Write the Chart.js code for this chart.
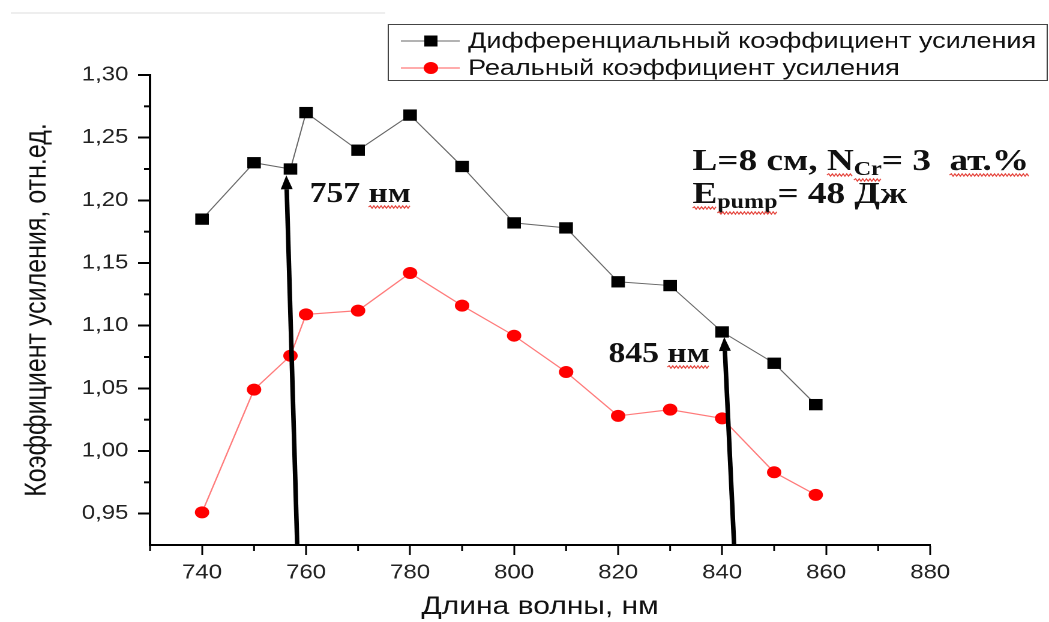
<!DOCTYPE html>
<html>
<head>
<meta charset="utf-8">
<title>Коэффициент усиления</title>
<script src="https://cdn.jsdelivr.net/npm/chart.js@4/dist/chart.umd.min.js"></script>
<style>
  html, body { margin: 0; padding: 0; background: #fff; }
</style>
</head>
<body>
<canvas id="gainChart" style="display:block;width:1049px;height:622px"></canvas>
<script>
// values
const wavelengths = [740, 750, 757, 760, 770, 780, 790, 800, 810, 820, 830, 840, 850, 858];
const diffGain = [1.185, 1.230, 1.225, 1.270, 1.240, 1.268, 1.227, 1.182, 1.178, 1.135, 1.132, 1.095, 1.070, 1.037];
const realGain = [0.951, 1.049, 1.076, 1.109, 1.112, 1.142, 1.116, 1.092, 1.063, 1.028, 1.033, 1.026, 0.983, 0.965];
const seriesLabels = ['Дифференциальный коэффициент усиления', 'Реальный коэффициент усиления'];

const xMajorTicks = [740, 760, 780, 800, 820, 840, 860, 880];
const xMinorTicks = [730, 750, 770, 790, 810, 830, 850, 870];
const yMajorTicks = [0.95, 1.00, 1.05, 1.10, 1.15, 1.20, 1.25, 1.30];
const yMinorTicks = [0.975, 1.025, 1.075, 1.125, 1.175, 1.225, 1.275];

// arrows: from the axis up to the marked point (data units)
const arrowFromX = [758.3, 842.3];
const arrowToX = [756.2, 840.4];
const arrowToY = [1.220, 1.091];

// the reference picture is stretched sideways, so draw narrower and let css widen it
const STRETCH = 1.2;
const W = Math.round(1049 / STRETCH);
const canvas = document.getElementById('gainChart');
canvas.width = W;
canvas.height = 622;

const SANS = '"Liberation Sans", Arial, sans-serif';
const SERIF = '"Liberation Serif", "Times New Roman", serif';

function squiggle(ctx, x0, x1, y) {
    ctx.save();
    ctx.strokeStyle = '#e5473f';
    ctx.lineWidth = 1;
    ctx.beginPath();
    let up = true;
    ctx.moveTo(x0, y);
    for (let x = x0 + 1.5; x <= x1; x += 1.5) {
        ctx.lineTo(x, up ? y - 1.2 : y + 1.2);
        up = !up;
    }
    ctx.stroke();
    ctx.restore();
}

// draws bold serif text made of runs (normal / subscript), with optional spell-check squiggle
function drawRuns(ctx, x, baseline, runs) {
    runs.forEach(r => {
        ctx.font = 'bold ' + r.size + 'px ' + SERIF;
        const w = ctx.measureText(r.t).width;
        const y = baseline + (r.dy || 0);
        ctx.fillText(r.t, x, y);
        if (r.wavy) squiggle(ctx, x, x + w, y + 5);
        x += w;
    });
}

function drawArrow(ctx, x0, y0, x1, y1) {
    const ang = Math.atan2(y1 - y0, x1 - x0);
    const head = 14, half = 5;
    const bx = x1 - Math.cos(ang) * head, by = y1 - Math.sin(ang) * head;
    ctx.save();
    ctx.strokeStyle = '#000';
    ctx.fillStyle = '#000';
    ctx.lineWidth = 3.8;
    ctx.beginPath();
    ctx.moveTo(x0, y0);
    ctx.lineTo(bx, by);
    ctx.stroke();
    ctx.beginPath();
    ctx.moveTo(x1, y1);
    ctx.lineTo(bx + Math.sin(ang) * half, by - Math.cos(ang) * half);
    ctx.lineTo(bx - Math.sin(ang) * half, by + Math.cos(ang) * half);
    ctx.closePath();
    ctx.fill();
    ctx.restore();
}

const extrasPlugin = {
    id: 'extras',
    afterDraw(chart) {
        const ctx = chart.ctx;
        const xs = chart.scales.x, ys = chart.scales.y;
        ctx.save();

        // faint line at the very top
        ctx.strokeStyle = '#eeeeee';
        ctx.lineWidth = 2;
        ctx.beginPath();
        ctx.moveTo(9, 13);
        ctx.lineTo(321, 13);
        ctx.stroke();

        // minor ticks
        ctx.strokeStyle = '#000';
        ctx.lineWidth = 1.5;
        xMinorTicks.forEach(v => {
            const px = xs.getPixelForValue(v);
            ctx.beginPath();
            ctx.moveTo(px, xs.top);
            ctx.lineTo(px, xs.top + 6);
            ctx.stroke();
        });
        ctx.lineWidth = 2;
        yMinorTicks.forEach(v => {
            const py = ys.getPixelForValue(v);
            ctx.beginPath();
            ctx.moveTo(ys.right, py);
            ctx.lineTo(ys.right - 5, py);
            ctx.stroke();
        });

        // arrows to 757 and 845 nm
        for (let i = 0; i < arrowToX.length; i++) {
            drawArrow(ctx,
                xs.getPixelForValue(arrowFromX[i]), ys.getPixelForValue(ys.min),
                xs.getPixelForValue(arrowToX[i]), ys.getPixelForValue(arrowToY[i]));
        }

        ctx.fillStyle = '#111';
        ctx.textBaseline = 'alphabetic';
        ctx.textAlign = 'left';
        drawRuns(ctx, 258, 202, [{t: '757 ', size: 28}, {t: 'нм', size: 28, wavy: true}]);
        drawRuns(ctx, 507, 362, [{t: '845 ', size: 28}, {t: 'нм', size: 28, wavy: true}]);

        drawRuns(ctx, 577, 170, [
            {t: 'L=8 см, ', size: 31},
            {t: 'N', size: 31, wavy: true},
            {t: 'Cr', size: 20, dy: 5, wavy: true},
            {t: '= 3  ', size: 31},
            {t: 'ат.%', size: 31, wavy: true}
        ]);
        drawRuns(ctx, 577, 203, [
            {t: 'E', size: 31, wavy: true},
            {t: 'pump', size: 20, dy: 5, wavy: true},
            {t: '= 48 Дж', size: 31}
        ]);

        // legend box
        const lx = 323, ly = 24, lw = 549, lh = 56;
        ctx.strokeStyle = '#444';
        ctx.lineWidth = 1;
        ctx.strokeRect(lx + 0.5, ly + 0.5, lw, lh);
        const rows = [41, 68];
        chart.data.datasets.forEach((ds, i) => {
            const y = rows[i];
            ctx.strokeStyle = ds.borderColor;
            ctx.lineWidth = ds.borderWidth;
            ctx.beginPath();
            ctx.moveTo(334, y);
            ctx.lineTo(383, y);
            ctx.stroke();
            ctx.fillStyle = ds.pointBackgroundColor;
            if (ds.pointStyle === 'rect') {
                ctx.fillRect(359 - 5.5, y - 5.5, 11, 11);
            } else {
                ctx.beginPath();
                ctx.arc(359, y, 6, 0, Math.PI * 2);
                ctx.fill();
            }
            ctx.fillStyle = '#111';
            ctx.font = '22.5px ' + SANS;
            ctx.textBaseline = 'middle';
            ctx.fillText(ds.label, 390, y + 1);
        });
        ctx.restore();
    }
};

new Chart(canvas, {
    type: 'line',
    data: {
        datasets: [{
            label: seriesLabels[0],
            data: wavelengths.map((x, i) => ({x: x, y: diffGain[i]})),
            borderColor: '#666666',
            borderWidth: 1,
            pointStyle: 'rect',
            pointRadius: 8,
            pointBackgroundColor: '#000000',
            pointBorderColor: '#000000',
            pointBorderWidth: 0
        }, {
            label: seriesLabels[1],
            data: wavelengths.map((x, i) => ({x: x, y: realGain[i]})),
            borderColor: '#ff7a7a',
            borderWidth: 1.2,
            pointStyle: 'circle',
            pointRadius: 6,
            pointBackgroundColor: '#ff0000',
            pointBorderColor: '#ff0000',
            pointBorderWidth: 0
        }]
    },
    options: {
        responsive: false,
        devicePixelRatio: 2,
        animation: false,
        layout: {padding: {left: 0, right: W - 775, top: 75, bottom: 0}},
        plugins: {legend: {display: false}, tooltip: {enabled: false}},
        scales: {
            x: {
                type: 'linear',
                min: 730,
                max: 880,
                afterBuildTicks: s => { s.ticks = xMajorTicks.map(v => ({value: v})); },
                afterFit: s => { s.height = 77; },
                border: {color: '#000', width: 2},
                grid: {drawOnChartArea: false, tickLength: 10, tickColor: '#000', tickWidth: 1.5},
                ticks: {color: '#222', font: {family: SANS, size: 20}, padding: 6, maxRotation: 0,
                    callback: v => String(v)},
                title: {display: true, text: 'Длина волны, нм', color: '#111',
                    font: {family: SANS, size: 25}, padding: {top: 0, bottom: 0}}
            },
            y: {
                min: 0.925,
                max: 1.30,
                afterBuildTicks: s => { s.ticks = yMajorTicks.map(v => ({value: v})); },
                afterFit: s => { s.width = 125; },
                border: {color: '#000', width: 2},
                grid: {drawOnChartArea: false, tickLength: 10, tickColor: '#000', tickWidth: 2},
                ticks: {color: '#222', font: {family: SANS, size: 20}, padding: 8,
                    callback: v => v.toFixed(2).replace('.', ',')},
                title: {display: true, text: 'Коэффициент усиления, отн.ед.', color: '#111',
                    font: {family: SANS, size: 25}, padding: {top: 16, bottom: 0}}
            }
        }
    },
    plugins: [extrasPlugin]
});
</script>
</body>
</html>
